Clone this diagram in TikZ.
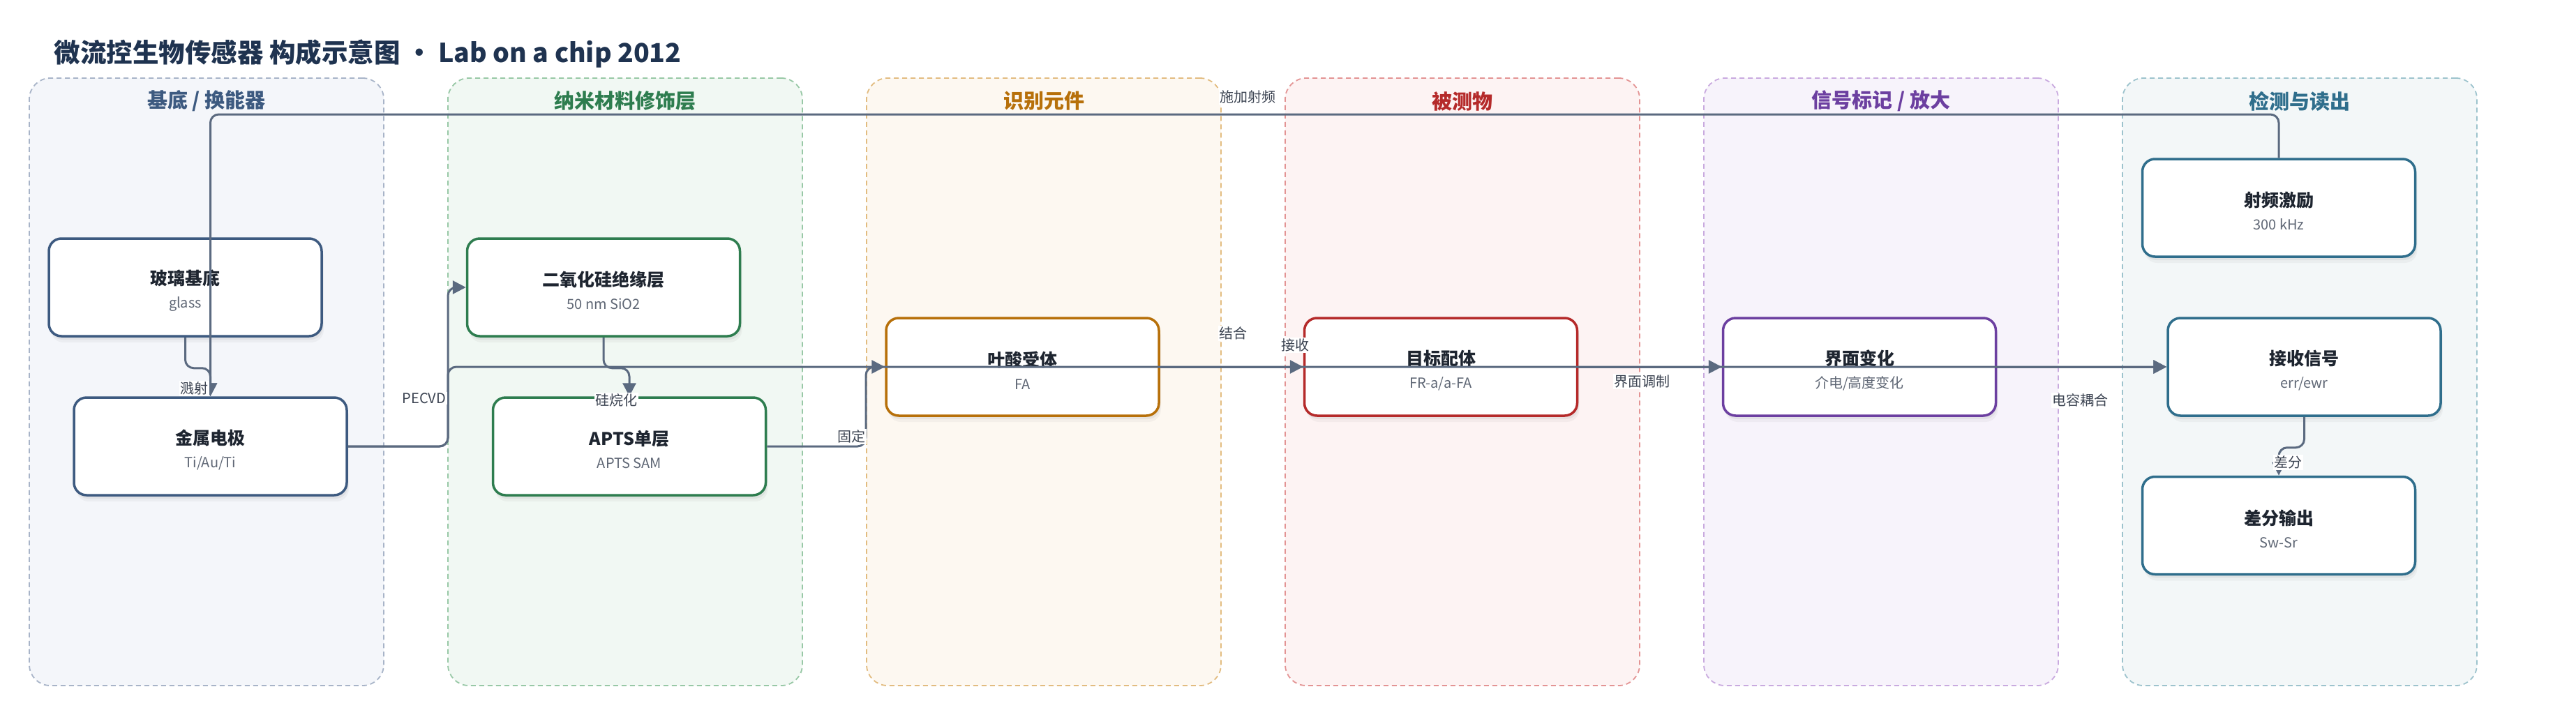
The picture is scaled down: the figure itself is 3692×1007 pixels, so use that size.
\documentclass[tikz,border=0pt]{standalone}
\usepackage{fontspec}
\setmainfont{Noto Sans CJK SC}
\usetikzlibrary{arrows.meta,shadows,calc}
\definecolor{titlec}{HTML}{1F3350}
\definecolor{edgec}{HTML}{5B6A80}
\definecolor{labc}{HTML}{3C4452}
\definecolor{subc}{HTML}{5F6775}
\definecolor{namec}{HTML}{1E2530}
\definecolor{cA}{HTML}{3D5A80}\definecolor{fA}{HTML}{F4F6FA}\definecolor{bA}{HTML}{A8B4C8}
\definecolor{cB}{HTML}{2E7D4F}\definecolor{fB}{HTML}{F1F8F3}\definecolor{bB}{HTML}{98C8A6}
\definecolor{cC}{HTML}{B7700A}\definecolor{fC}{HTML}{FDF8F1}\definecolor{bC}{HTML}{E2BC80}
\definecolor{cD}{HTML}{B52A2A}\definecolor{fD}{HTML}{FDF3F3}\definecolor{bD}{HTML}{E39494}
\definecolor{cE}{HTML}{6C3FA0}\definecolor{fE}{HTML}{F7F3FB}\definecolor{bE}{HTML}{C9AADF}
\definecolor{cF}{HTML}{2F6E8C}\definecolor{fF}{HTML}{F3F7F8}\definecolor{bF}{HTML}{9DC3CD}
\newcommand{\bx}[2]{\rule{0pt}{31pt}{\fontsize{25}{30}\selectfont\bfseries\color{namec}#1}\\[3pt]{\color{subc}#2}}
\begin{document}
\begin{tikzpicture}[x=1pt,y=-1pt,
  panel/.style={draw, line width=1.8pt, dash pattern=on 7pt off 5pt, rounded corners=30pt, minimum width=508pt, minimum height=871pt, inner sep=0pt},
  phead/.style={font=\fontsize{29}{34}\selectfont\bfseries},
  box/.style={draw, line width=3.5pt, fill=white, rounded corners=18pt, minimum width=391pt, minimum height=140pt, align=center, inner sep=0pt, font=\fontsize{20}{30}\selectfont,
    drop shadow={opacity=0.10, shadow xshift=2pt, shadow yshift=-5pt},
    drop shadow={opacity=0.07, shadow xshift=3pt, shadow yshift=-9pt}},
  edge/.style={draw=edgec, line width=3pt, rounded corners=12pt, -{Triangle[length=19pt,width=19pt]}},
  lab/.style={fill=white, inner sep=1.5pt, text=labc, font=\fontsize{20}{24}\selectfont}
]
\useasboundingbox (0,0) rectangle (3692,1007);
% title
\node[anchor=west, text=titlec, font=\fontsize{37.5}{44}\selectfont\bfseries] (title) at (74,77) {微流控生物传感器 构成示意图 · Lab on a chip 2012};
% panels
\node[panel, draw=bA, fill=fA] (p1) at (296,547.5) {};
\node[panel, draw=bB, fill=fB] (p2) at (896,547.5) {};
\node[panel, draw=bC, fill=fC] (p3) at (1496,547.5) {};
\node[panel, draw=bD, fill=fD] (p4) at (2096,547.5) {};
\node[panel, draw=bE, fill=fE] (p5) at (2696,547.5) {};
\node[panel, draw=bF, fill=fF] (p6) at (3296,547.5) {};
\node[phead, text=cA] (h1) at (296,145) {基底 / 换能器};
\node[phead, text=cB] (h2) at (896,145) {纳米材料修饰层};
\node[phead, text=cC] (h3) at (1496,145) {识别元件};
\node[phead, text=cD] (h4) at (2096,145) {被测物};
\node[phead, text=cE] (h5) at (2696,145) {信号标记 / 放大};
\node[phead, text=cF] (h6) at (3296,145) {检测与读出};
% nodes
\node[box, draw=cA] (glass) at (265.5,412) {\bx{玻璃基底}{glass}};
\node[box, draw=cA] (metal) at (301.5,640) {\bx{金属电极}{Ti/Au/Ti}};
\node[box, draw=cB] (sio2) at (865,412) {\bx{二氧化硅绝缘层}{50 nm SiO2}};
\node[box, draw=cB] (apts) at (902,640) {\bx{APTS单层}{APTS SAM}};
\node[box, draw=cC] (fa) at (1465.5,526) {\bx{叶酸受体}{FA}};
\node[box, draw=cD] (target) at (2065,526) {\bx{目标配体}{FR-a/a-FA}};
\node[box, draw=cE] (iface) at (2665,526) {\bx{界面变化}{介电/高度变化}};
\node[box, draw=cF] (rf) at (3266,298) {\bx{射频激励}{300 kHz}};
\node[box, draw=cF] (recv) at (3302.5,526) {\bx{接收信号}{err/ewr}};
\node[box, draw=cF] (diff) at (3266,753.5) {\bx{差分输出}{Sw-Sr}};
% connectors
\coordinate (busA) at (642,640);
\coordinate (busB) at (1241,640);
\coordinate (rfbend) at (3266,164);
\draw[edge] (glass.south) -- ++(0,44) -| (metal.north);
\draw[edge] (rf.north) -- (rfbend) -| (metal.north);
\draw[edge] (metal.east) -- (busA) |- (sio2.west);
\draw[edge] (metal.east) -- (busA) |- (recv.west);
\draw[edge] (sio2.south) -- ++(0,44) -| (apts.north);
\draw[edge] (apts.east) -- (busB) |- (fa.west);
\draw[edge] (fa.east) -- (target.west);
\draw[edge] (target.east) -- (iface.west);
\draw[edge] (iface.east) -- (recv.west);
\draw[edge] (recv.south) -- ++(0,44) -| (diff.north);
% labels
\node[lab] (l1) at (278,557) {溅射};
\node[lab] (l2) at (608,571) {PECVD};
\node[lab] (l3) at (883,574) {硅烷化};
\node[lab] (l4) at (1220,626) {固定};
\node[lab] (l5) at (1767,478) {结合};
\node[lab] (l6) at (1856,495) {接收};
\node[lab] (l7) at (1788,139) {施加射频};
\node[lab] (l8) at (2353,547) {界面调制};
\node[lab] (l9) at (2981,574) {电容耦合};
\node[lab] (l10) at (3279,663) {差分};
\end{tikzpicture}
\end{document}
